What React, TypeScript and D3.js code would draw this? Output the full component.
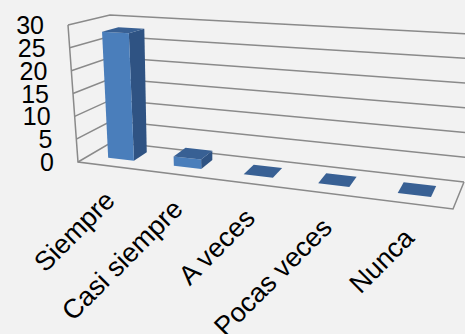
import React from "react";
import * as d3 from "d3";

const categories = ["Siempre", "Casi siempre", "A veces", "Pocas veces", "Nunca"];
const values = [28, 2, 0, 0, 0];
const valueTicks = [0, 5, 10, 15, 20, 25, 30];

const WIDTH = 465;
const HEIGHT = 334;

// Floor corners of the 3D box on screen
const floorX = { fl: 78, fr: 453, bl: 112, br: 464 };
const floorY = { fl: 162, fr: 209, bl: 142, br: 182 };
// Screen height of the full value range at each corner, and the sideways lean of the verticals
const wallHeight = { fl: 137, fr: 165, bl: 127, br: 148 };
const wallLean = { fl: -10, fr: 8, bl: -2, br: 8 };

type Corners = { fl: number; fr: number; bl: number; br: number };

const bilinear = (c: Corners, u: number, d: number) =>
  d3.interpolateNumber(
    d3.interpolateNumber(c.fl, c.fr)(u),
    d3.interpolateNumber(c.bl, c.br)(u)
  )(d);

// Foreshortening along the category axis: slots grow towards the viewer's side
const foreshorten = (t: number) => t / (t + 1.174 * (1 - t));

const valueScale = d3.scaleLinear().domain([0, 30]).range([0, 1]);
const slotScale = d3
  .scaleBand<string>()
  .domain(categories)
  .range([0, 1]);

function project(t: number, d: number, v: number): [number, number] {
  const u = foreshorten(t);
  const k = valueScale(v);
  return [
    bilinear(floorX, u, d) + bilinear(wallLean, u, d) * k,
    bilinear(floorY, u, d) - bilinear(wallHeight, u, d) * k,
  ];
}

const polyline = d3.line<[number, number]>();
const closed = (pts: [number, number][]) => polyline(pts) + "Z";

const BAR_HALF = 0.04;
const DEPTH_FRONT = 0.33;
const DEPTH_BACK = 0.74;

const GRID = "#8a8a8a";

function Bar({ name, value }: { name: string; value: number }) {
  const c = (slotScale(name) ?? 0) + slotScale.bandwidth() / 2;
  const l = c - BAR_HALF;
  const r = c + BAR_HALF;
  const f = DEPTH_FRONT;
  const b = DEPTH_BACK;
  const top = closed([project(l, f, value), project(r, f, value), project(r, b, value), project(l, b, value)]);
  const front = closed([project(l, f, 0), project(r, f, 0), project(r, f, value), project(l, f, value)]);
  const side = closed([project(r, f, 0), project(r, b, 0), project(r, b, value), project(r, f, value)]);
  return (
    <g>
      {value > 0 && <path d={side} fill="#2f5383" />}
      {value > 0 && <path d={front} fill="#4a7ebb" />}
      <path d={top} fill="#386094" />
    </g>
  );
}

export default function App() {
  return (
    <svg
      width={WIDTH}
      height={HEIGHT}
      viewBox={`0 0 ${WIDTH} ${HEIGHT}`}
      style={{ position: "fixed", left: 0, top: 0, background: "#f2f2f2" }}
      fontFamily="'Liberation Sans', Arial, sans-serif"
    >
      {valueTicks.map((v) => {
        // Each gridline runs along the back wall, then down the left wall
        const pts = [project(1, 1, v), project(0, 1, v), project(0, 0, v)];
        return <path key={v} d={polyline(pts as [number, number][]) ?? ""} fill="none" stroke={GRID} strokeWidth={1.5} />;
      })}
      {/* Front-left upright and the front and right floor edges */}
      <path
        d={polyline([project(0, 0, 30), project(0, 0, 0), project(1, 0, 0), project(1, 1, 0)]) ?? ""}
        fill="none"
        stroke={GRID}
        strokeWidth={1.5}
      />
      {categories.map((name, i) => (
        <Bar key={name} name={name} value={values[i]} />
      ))}
      {valueTicks.map((v) => {
        const [x, y] = project(0, 0, v);
        return (
          <text key={v} x={x - 24} y={y + 9} textAnchor="end" fontSize={25} fill="#000">
            {v}
          </text>
        );
      })}
      {categories.map((name) => {
        const c = (slotScale(name) ?? 0) + slotScale.bandwidth() / 2;
        const [x, y] = project(c, 0, 0);
        return (
          <text
            key={name}
            transform={`translate(${x + 6},${y + 36}) rotate(-45)`}
            textAnchor="end"
            fontSize={27}
            fill="#000"
          >
            {name}
          </text>
        );
      })}
    </svg>
  );
}
